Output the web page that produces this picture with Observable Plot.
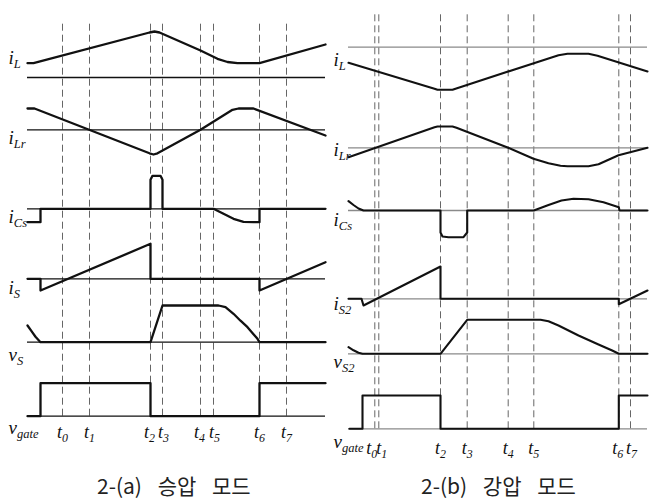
<!DOCTYPE html>
<html><head><meta charset="utf-8">
<script src="https://cdn.jsdelivr.net/npm/d3@7"></script>
<script src="https://cdn.jsdelivr.net/npm/@observablehq/plot@0.6"></script>
<style>
body{margin:0;background:#fff;}
#wrap{position:relative;width:656px;height:500px;overflow:hidden;}
#panels{display:flex;}
.cap{position:absolute;top:471px;font-family:"Noto Sans CJK KR","Noto Sans",sans-serif;font-size:21px;line-height:28px;color:#222;white-space:pre;word-spacing:11px;}
</style></head>
<body><div id="wrap"><div id="panels"></div>
<div class="cap" id="capA" style="left:97px"></div>
<div class="cap" id="capB" style="left:421px"></div></div>
<script>
// ---------- data: panel (a) 승압 모드 ----------
const captionA = "2-(a) 승압 모드";
const rowNamesA = ["i_L", "i_Lr", "i_Cs", "i_S", "v_S", "v_gate"];
const tNames = ["t_0", "t_1", "t_2", "t_3", "t_4", "t_5", "t_6", "t_7"];
const timesA = [35, 62, 123, 135, 173, 186, 232, 259];
const iL_A   = [[0,14.3],[6,14.3],[122,45],[127,46],[132,45],[173,27],[190,18.7],[200,15.5],[210,14.3],[232,14.3],[298,33]];
const iLr_A  = [[0,21.3],[7,21.3],[122,-23.5],[126,-24.7],[130,-23.5],[173,0],[205,20],[211,21.3],[226,21.3],[298,-5.7]];
const iCs_A  = [[0,-13.4],[13,-13.4],[13,0],[123,0],[123,29],[125,33],[133,33],[135,29],[135,0],[186,0],[196,-5],[206,-10],[216,-13],[226,-13.4],[232,-13.4],[232,0],[298,0]];
const iS_A   = [[0,0],[13,0],[13,-11.7],[123,35],[123,0],[232,0],[232,-11.7],[298,16.6]];
const vS_A   = [[0,16.7],[4,11],[8,5.5],[13,0],[123,0],[135,36.7],[191,36.7],[198,35],[206,28.4],[213,21.5],[220,15],[226,8],[230,3.4],[232,0],[298,0]];
const vgate_A= [[0,0],[13,0],[13,33],[123,33],[123,0],[232,0],[232,33],[298,33]];

// ---------- data: panel (b) 강압 모드 ----------
const captionB = "2-(b) 강압 모드";
const rowNamesB = ["i_L", "i_Lr", "i_Cs", "i_S2", "v_S2", "v_gate"];
const timesB = [26.3, 30.3, 92, 118.7, 159.7, 185.3, 270.3, 282];
const iL_B   = [[0,-15.6],[86,-41.5],[89,-42.6],[104,-42.6],[107,-41.5],[210,-8],[219,-6.6],[240,-6.6],[249,-8.5],[299,-24.3]];
const iLr_B  = [[0,-9.4],[86,20.5],[89,21.3],[104,21.3],[108,20],[159.7,0],[185,-11],[200,-15.5],[212,-18],[219,-18.4],[240,-18.4],[250,-16.5],[270,-7.5],[299,0]];
const iCs_B  = [[0,9.3],[5,5.5],[10,2],[15,0],[92,0],[92,-22],[94,-26],[100,-26.7],[115,-26.7],[118.7,-22],[118.7,0],[185.3,0],[200,5.5],[213,10],[225,11.7],[240,11.3],[255,8.3],[270.3,3.3],[271,0],[299,0]];
const iS2_B  = [[0,0],[13,0],[15,-6.7],[92,32.3],[92,0],[270.3,0],[270.3,-5.5],[299,8.3]];
const vS2_B  = [[0,6.6],[5,3.5],[10,1],[14,0],[92,0],[118.7,34],[192,34],[200,32.5],[210,28.3],[230,18.3],[250,9.3],[263.7,3.3],[270.3,0],[299,0]];
const vgate_B= [[1,0],[14,0],[14,33.3],[92,33.3],[92,0],[270.3,0],[270.3,33.3],[299,33.3]];

// ---------- layout ----------
const H = 462;
const panelA = {
  width: 328, domain: [0, 298], range: [27, 325],
  names: rowNamesA, waves: [iL_A, iLr_A, iCs_A, iS_A, vS_A, vgate_A],
  base: [385, 332.7, 253.7, 183.7, 120.3, 46.3],
  labelX: -19, labelY: [399, 319, 240, 169, 102, 29],
  times: timesA, tLabelY: 25, tDx: [0, 0, -1, 1, -1, 1, 0, 0],
  dash: [46.3, 440], baseColor: "#111", waveWidth: 2.3
};
const panelB = {
  width: 328, domain: [0, 299], range: [20, 319],
  names: rowNamesB, waves: [iL_B, iLr_B, iCs_B, iS2_B, vS2_B, vgate_B],
  base: [415.3, 314.7, 252, 163.7, 108.7, 33.7],
  labelX: -15, labelY: [397, 307, 237, 153, 95, 15],
  times: timesB, tLabelY: 9, tDx: [-3, 3, 0, 0, 0, 0, -1, 1],
  dash: [33.7, 450.3], baseColor: "#8a8a8a", waveWidth: 2.1
};

function subscripts(svg) {
  d3.select(svg).selectAll("text").each(function() {
    const s = this.textContent, k = s.indexOf("_");
    if (k < 0) return;
    this.textContent = s.slice(0, k);
    d3.select(this).append("tspan").attr("font-size", "0.66em").attr("dy", "0.38em").text(s.slice(k + 1));
  });
}

const host = document.getElementById("panels");
[panelA, panelB].forEach(p => {
  const tX = p.times.map((t, i) => t + p.tDx[i]);
  const pts = p.waves.flatMap((w, i) => w.map(([t, v]) => ({row: p.names[i], t, y: p.base[i] + v})));
  const svg = Plot.plot({
    width: p.width, height: H, margin: 0,
    style: {overflow: "visible", background: "transparent"},
    x: {domain: p.domain, range: p.range, axis: null},
    y: {domain: [0, H], range: [H, 0], axis: null},
    marks: [
      Plot.ruleX(p.times, {x: d => d, y1: p.dash[0], y2: p.dash[1], stroke: "#666", strokeWidth: 1, strokeDasharray: "7,4"}),
      Plot.ruleY(p.base, {y: d => d, x1: p.domain[0], x2: p.domain[1], stroke: p.baseColor, strokeWidth: 1.3}),
      Plot.line(pts, {x: "t", y: "y", z: "row", stroke: "#111", strokeWidth: p.waveWidth, strokeLinejoin: "round"}),
      Plot.text(p.names, {x: p.labelX, y: (d, i) => p.labelY[i], text: d => d, textAnchor: "start", lineAnchor: "bottom",
        fontFamily: "Liberation Serif", fontStyle: "italic", fontSize: 19, fill: "#111"}),
      Plot.text(tNames, {x: (d, i) => tX[i], y: p.tLabelY, text: d => d, textAnchor: "middle", lineAnchor: "bottom",
        fontFamily: "Liberation Serif", fontStyle: "italic", fontSize: 18, fill: "#111"})
    ]
  });
  subscripts(svg);
  host.appendChild(svg);
});
document.getElementById("capA").textContent = captionA;
document.getElementById("capB").textContent = captionB;
</script></body></html>
